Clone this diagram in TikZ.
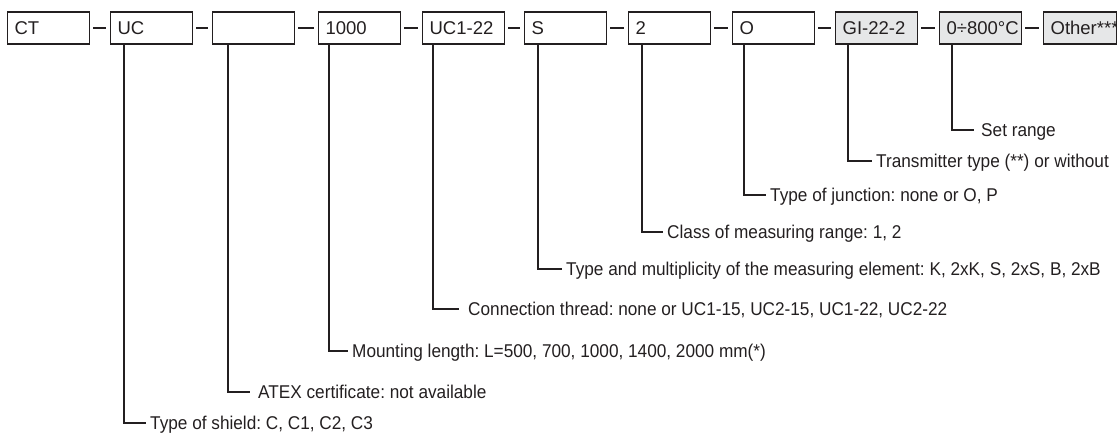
\documentclass[tikz,border=0pt]{standalone}
\usepackage{fontspec}
\setmainfont{Liberation Sans}
\newfontfamily\notefont{Liberation Sans}[FakeStretch=0.93]
\usepackage{xcolor}
\definecolor{codeink}{HTML}{231F20}
\definecolor{optgray}{HTML}{E6E7E8}
\usepackage{tikz}
\usetikzlibrary{positioning,calc}
\frenchspacing

\begin{document}
\begin{tikzpicture}[x=1pt, y=-1pt,
      field/.style={draw=codeink, line width=1.2pt, anchor=west, minimum height=32pt,
                    text width=68pt, inner xsep=7pt, inner ysep=0pt, align=left,
                    text height=13pt, text depth=0pt, text=codeink,
                    font=\fontsize{18.5}{20}\selectfont},
      option/.style={field, fill=optgray},
      note/.style={anchor=west, inner xsep=4pt, inner ysep=0pt, text=codeink,
                   text height=13pt, text depth=0pt,
                   font=\notefont\fontsize{18.5}{20}\selectfont},
      joiner/.style={line width=1.2pt, codeink},
      lead/.style={line width=1.2pt, codeink}]
    \useasboundingbox (0,0) rectangle (1117,432);
    % code fields
    \node[field] (ct)    at (7,28)    {CT};
    \node[field] (uc)    at (110,28)  {UC};
    \node[field] (atx)   at (212,28)  {};
    \node[field] (len)   at (318,28)  {1000};
    \node[field] (thr)   at (422,28)  {UC1-22};
    \node[field] (elem)  at (524,28)  {S};
    \node[field] (cls)   at (628,28)  {2};
    \node[field] (junc)  at (732,28)  {O};
    \node[option] (trans) at (835,28) {GI-22-2};
    \node[option] (rng)   at (939,28) {0÷800°C};
    \node[option, text width=59pt] (other) at (1043,28) {Other***};
    \draw[joiner] ([xshift=3pt]ct.east)    -- ([xshift=-4pt]uc.west);
    \draw[joiner] ([xshift=3pt]uc.east)    -- ([xshift=-4pt]atx.west);
    \draw[joiner] ([xshift=3pt]atx.east)   -- ([xshift=-4pt]len.west);
    \draw[joiner] ([xshift=3pt]len.east)   -- ([xshift=-4pt]thr.west);
    \draw[joiner] ([xshift=3pt]thr.east)   -- ([xshift=-4pt]elem.west);
    \draw[joiner] ([xshift=3pt]elem.east)  -- ([xshift=-4pt]cls.west);
    \draw[joiner] ([xshift=3pt]cls.east)   -- ([xshift=-4pt]junc.west);
    \draw[joiner] ([xshift=3pt]junc.east)  -- ([xshift=-4pt]trans.west);
    \draw[joiner] ([xshift=3pt]trans.east) -- ([xshift=-4pt]rng.west);
    \draw[joiner] ([xshift=3pt]rng.east)   -- ([xshift=-4pt]other.west);
    % explanations
    \node[note] (shieldtxt) at (146,423) {Type of shield: C, C1, C2, C3};
    \node[note, inner xsep=8pt] (atextxt) at (250,392) {ATEX certificate: not available};
    \node[note] (lentxt)   at (348,351) {Mounting length: L=500, 700, 1000, 1400, 2000 mm(*)};
    \node[note, inner xsep=9pt] (thrtxt) at (459,309) {Connection thread: none or UC1-15, UC2-15, UC1-22, UC2-22};
    \node[note] (elemtxt)  at (562,269) {Type and multiplicity of the measuring element: K, 2xK, S, 2xS, B, 2xB};
    \node[note] (clstxt)   at (663,232) {Class of measuring range: 1, 2};
    \node[note] (junctxt)  at (766,195) {Type of junction: none or O, P};
    \node[note] (transtxt) at (872,161) {Transmitter type (**) or without};
    \node[note, inner xsep=7pt] (rngtxt) at (974,130) {Set range};
    \draw[lead] ([xshift=14pt]uc.south west)    |- (shieldtxt.west);
    \draw[lead] ([xshift=16pt]atx.south west)   |- (atextxt.west);
    \draw[lead] ([xshift=11pt]len.south west)   |- (lentxt.west);
    \draw[lead] ([xshift=11pt]thr.south west)   |- (thrtxt.west);
    \draw[lead] ([xshift=14pt]elem.south west)  |- (elemtxt.west);
    \draw[lead] ([xshift=14pt]cls.south west)   |- (clstxt.west);
    \draw[lead] ([xshift=12pt]junc.south west)  |- (junctxt.west);
    \draw[lead] ([xshift=13pt]trans.south west) |- (transtxt.west);
    \draw[lead] ([xshift=13pt]rng.south west)   |- (rngtxt.west);
  \end{tikzpicture}
\end{document}
